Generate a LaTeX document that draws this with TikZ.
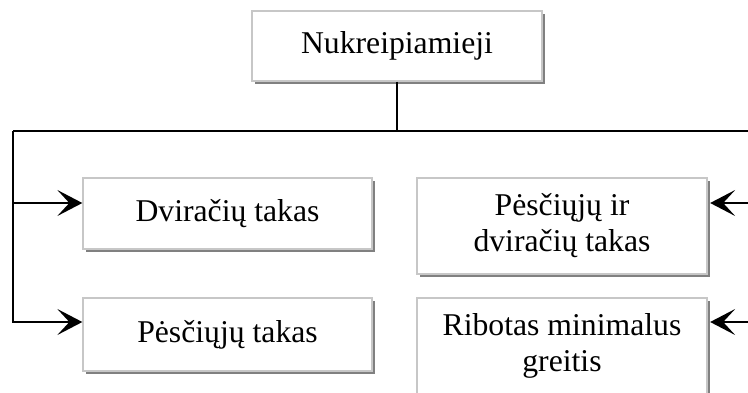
\documentclass[tikz,border=0pt]{standalone}
\usepackage{fontspec}
\setmainfont{Liberation Serif}
\usetikzlibrary{arrows.meta,shadows,calc}

\tikzset{
  box/.style={
    rectangle, draw=black!22, line width=1.3pt, fill=white,
    align=center, inner sep=0pt,
    font=\fontsize{31.7}{36}\selectfont,
    general shadow={fill=black!50, shadow xshift=2.5pt, shadow yshift=-2.5pt}
  },
  link/.style={line width=1.8pt, black},
  arr/.style={link, -{Stealth[length=25pt,width=26pt,inset=12pt]}}
}

\begin{document}
\begin{tikzpicture}[x=1pt,y=-1pt]
  \useasboundingbox (0,0) rectangle (748,392);
  \clip (0,0) rectangle (748,392);

  % boxes
  \node[box, minimum width=290pt, minimum height=70pt] (top)  at (397,46)    {Nukreipiamieji};
  \node[box, minimum width=289pt, minimum height=71pt] (dvir) at (227.5,213.5) {Dviračių takas};
  \node[box, minimum width=289pt, minimum height=73pt] (pes)  at (227.5,334.5) {Pėsčiųjų takas};
  \node[box, minimum width=290pt, minimum height=96pt] (pesdv) at (562,226)  {Pėsčiųjų ir\\dviračių takas};
  \node[box, minimum width=290pt, minimum height=96pt] (rib)  at (562,346)   {Ribotas minimalus\\greitis};

  % bus lines
  \coordinate (L) at (13,131);
  \coordinate (R) at (760,131);
  \coordinate (y1) at (0,203);
  \coordinate (y2) at (0,322);

  \draw[link] (L) -- (R);
  \draw[link] (top.south) -- (top.south |- L);

  % left branch
  \draw[arr] (L) |- (dvir.west |- y1);
  \draw[arr] (L) |- (pes.west |- y2);

  % right branch
  \draw[arr] (R) |- ([xshift=2.5pt]pesdv.east |- y1);
  \draw[arr] (R) |- ([xshift=2.5pt]rib.east |- y2);
\end{tikzpicture}
\end{document}
